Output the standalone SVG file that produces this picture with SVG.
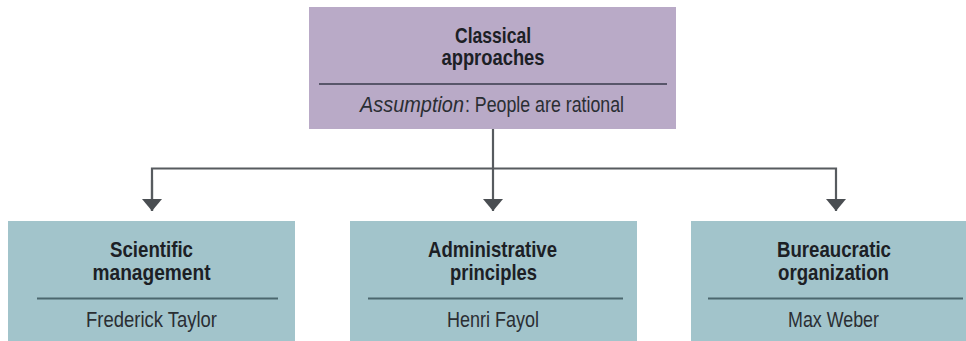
<svg xmlns="http://www.w3.org/2000/svg" width="966" height="341" viewBox="0 0 966 341">
  <defs>
    <style>
      .top { fill: #b9aac7; }
      .sub { fill: #a2c4cb; }
      .rule-top { stroke: #58566a; stroke-width: 2; }
      .rule-sub { stroke: #4b676e; stroke-width: 2; }
      .conn { fill: none; stroke: #575b5f; stroke-width: 2.2; }
      .head { font-family: "Liberation Sans Narrow", "Liberation Sans", Arial, sans-serif; font-weight: bold; font-size: 21.5px; fill: #1c2025; text-anchor: middle; }
      .body { font-family: "Liberation Sans Narrow", "Liberation Sans", Arial, sans-serif; font-size: 21.5px; fill: #2a2e33; text-anchor: middle; }
      .lead { text-anchor: start; }
      .em { font-style: italic; }
    </style>
    <marker id="arrow" viewBox="0 0 12 20" refX="12" refY="10" markerWidth="12" markerHeight="20" markerUnits="userSpaceOnUse" orient="auto">
      <path d="M0,0 L12,10 L0,20 Z" fill="#4a4e52"/>
    </marker>
  </defs>

  <rect width="966" height="341" fill="#ffffff"/>

  <!-- root node -->
  <g id="classical">
    <rect class="top" x="309" y="7" width="367" height="122"/>
    <text class="head" x="493" y="43" textLength="76" lengthAdjust="spacingAndGlyphs">Classical</text>
    <text class="head" x="493" y="65" textLength="103" lengthAdjust="spacingAndGlyphs">approaches</text>
    <line class="rule-top" x1="319" y1="84" x2="667" y2="84"/>
    <text class="body lead em" x="360" y="112" textLength="104" lengthAdjust="spacingAndGlyphs">Assumption</text>
    <text class="body lead" x="465" y="112" textLength="159" lengthAdjust="spacingAndGlyphs">: People are rational</text>
  </g>

  <!-- connectors -->
  <g id="connectors">
    <line class="conn" x1="493" y1="129" x2="493" y2="211" marker-end="url(#arrow)"/>
    <path class="conn" d="M152,211 V168.5 H836 V211" marker-end="url(#arrow)"/>
    <path class="conn" d="M152,180 V211" marker-end="url(#arrow)"/>
  </g>

  <!-- child nodes -->
  <g id="scientific">
    <rect class="sub" x="8" y="221" width="287" height="125"/>
    <text class="head" x="151.5" y="257" textLength="83" lengthAdjust="spacingAndGlyphs">Scientific</text>
    <text class="head" x="151.5" y="280" textLength="118" lengthAdjust="spacingAndGlyphs">management</text>
    <line class="rule-sub" x1="37" y1="298.5" x2="278" y2="298.5"/>
    <text class="body" x="151.5" y="327" textLength="131" lengthAdjust="spacingAndGlyphs">Frederick Taylor</text>
  </g>

  <g id="administrative">
    <rect class="sub" x="350" y="221" width="287" height="125"/>
    <text class="head" x="492.5" y="257" textLength="129" lengthAdjust="spacingAndGlyphs">Administrative</text>
    <text class="head" x="493.5" y="280" textLength="87" lengthAdjust="spacingAndGlyphs">principles</text>
    <line class="rule-sub" x1="368" y1="298.5" x2="623" y2="298.5"/>
    <text class="body" x="493" y="327" textLength="92" lengthAdjust="spacingAndGlyphs">Henri Fayol</text>
  </g>

  <g id="bureaucratic">
    <rect class="sub" x="691" y="221" width="287" height="125"/>
    <text class="head" x="834" y="257" textLength="114" lengthAdjust="spacingAndGlyphs">Bureaucratic</text>
    <text class="head" x="833.5" y="280" textLength="111" lengthAdjust="spacingAndGlyphs">organization</text>
    <line class="rule-sub" x1="708" y1="298.5" x2="963" y2="298.5"/>
    <text class="body" x="833.5" y="327" textLength="91" lengthAdjust="spacingAndGlyphs">Max Weber</text>
  </g>
</svg>
